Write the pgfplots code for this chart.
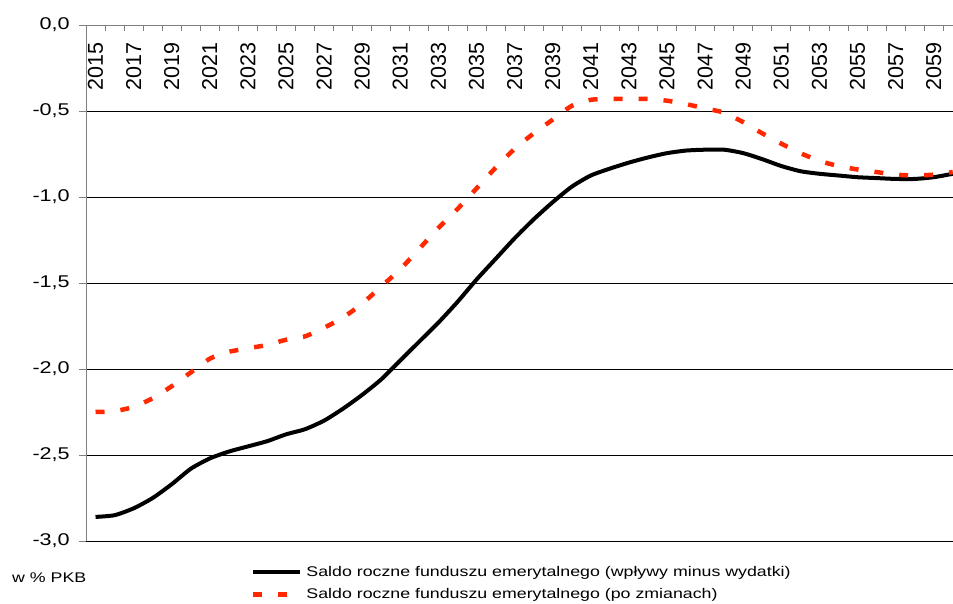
\documentclass[border=0pt]{standalone}
\usepackage{pgfplots}
\pgfplotsset{compat=1.18}
\usepackage{pgfplotstable}
\usepackage{graphicx}
\usepackage{fontspec}
\setmainfont{Liberation Sans}
\definecolor{redline}{RGB}{255,40,0}
\definecolor{axgray}{RGB}{128,128,128}

\pgfplotstableread{
year base changed
2015 -2.86 -2.25
2016 -2.85 -2.245
2017 -2.81 -2.22
2018 -2.75 -2.17
2019 -2.67 -2.10
2020 -2.58 -2.02
2021 -2.52 -1.94
2022 -2.48 -1.90
2023 -2.45 -1.88
2024 -2.42 -1.86
2025 -2.38 -1.83
2026 -2.35 -1.81
2027 -2.30 -1.76
2028 -2.23 -1.70
2029 -2.15 -1.62
2030 -2.06 -1.52
2031 -1.95 -1.42
2032 -1.84 -1.30
2033 -1.73 -1.18
2034 -1.61 -1.07
2035 -1.48 -0.95
2036 -1.36 -0.83
2037 -1.24 -0.72
2038 -1.13 -0.63
2039 -1.03 -0.55
2040 -0.94 -0.47
2041 -0.875 -0.435
2042 -0.835 -0.43
2043 -0.80 -0.43
2044 -0.77 -0.43
2045 -0.745 -0.44
2046 -0.73 -0.46
2047 -0.725 -0.485
2048 -0.725 -0.51
2049 -0.745 -0.565
2050 -0.78 -0.63
2051 -0.82 -0.69
2052 -0.85 -0.745
2053 -0.865 -0.79
2054 -0.875 -0.82
2055 -0.885 -0.84
2056 -0.89 -0.855
2057 -0.895 -0.87
2058 -0.895 -0.875
2059 -0.885 -0.87
2060 -0.865 -0.855
}\datatable

\begin{document}
\begin{tikzpicture}
\path[use as bounding box, clip] (0,0) rectangle (953pt,603pt);
\begin{axis}[
  at={(86pt,62pt)}, anchor=south west,
  scale only axis, width=876.3pt, height=516pt,
  xmin=2014.5, xmax=2060.5, ymin=-3, ymax=0,
  axis x line=top, axis y line=left,
  axis line style={-, axgray, line width=0.9pt},
  tick align=inside,
  xtick={2015,2017,...,2059},
  xticklabels={2015,2017,2019,2021,2023,2025,2027,2029,2031,2033,2035,2037,2039,2041,2043,2045,2047,2049,2051,2053,2055,2057,2059},
  major x tick style={draw=none},
  minor xtick={2014.5,2015.5,...,2060.5},
  minor x tick style={axgray, line width=0.9pt},
  minor tick length=6pt,
  xticklabel style={yshift=-17pt, rotate=90, anchor=east, inner sep=0pt, font=\fontsize{21.5}{24}\selectfont},
  ytick={-3,-2.5,-2,-1.5,-1,-0.5},
  yticklabels={{-3,0},{-2,5},{-2,0},{-1,5},{-1,0},{-0,5}},
  extra y ticks={0},
  extra y tick labels={0{,}0},
  extra y tick style={grid=none},
  ymajorgrids,
  major grid style={black, line width=0.9pt},
  major tick length=7pt,
  major y tick style={axgray, line width=0.9pt, xshift=-7pt},
  yticklabel style={xshift=-16pt, xscale=1.27, anchor=east, inner sep=0pt, font=\fontsize{17}{20}\selectfont},
  clip=false,
  legend style={at={(0.188,-0.044)}, anchor=north west, draw=none, fill=none,
    inner sep=0pt, row sep=7pt, column sep=2pt,
    font=\fontsize{14}{16}\selectfont},
  legend cell align=left,
  legend image code/.code={\draw[#1] (0pt,0pt) -- (47pt,0pt);},
]
\addplot[black, line width=4pt, smooth, tension=0.4] table[x=year, y=base] {\datatable};
\addlegendentry{\scalebox{1.27}[1]{Saldo roczne funduszu emerytalnego (wpływy minus wydatki)}}
\addplot[redline, line width=4.5pt, dash pattern=on 9pt off 16pt, smooth, tension=0.4] table[x=year, y=changed] {\datatable};
\addlegendentry{\scalebox{1.27}[1]{Saldo roczne funduszu emerytalnego (po zmianach)}}
\end{axis}
\node[anchor=west, inner sep=0pt, font=\fontsize{14}{16}\selectfont] at (12pt,25pt) {\scalebox{1.27}[1]{w \% PKB}};
\end{tikzpicture}
\end{document}
